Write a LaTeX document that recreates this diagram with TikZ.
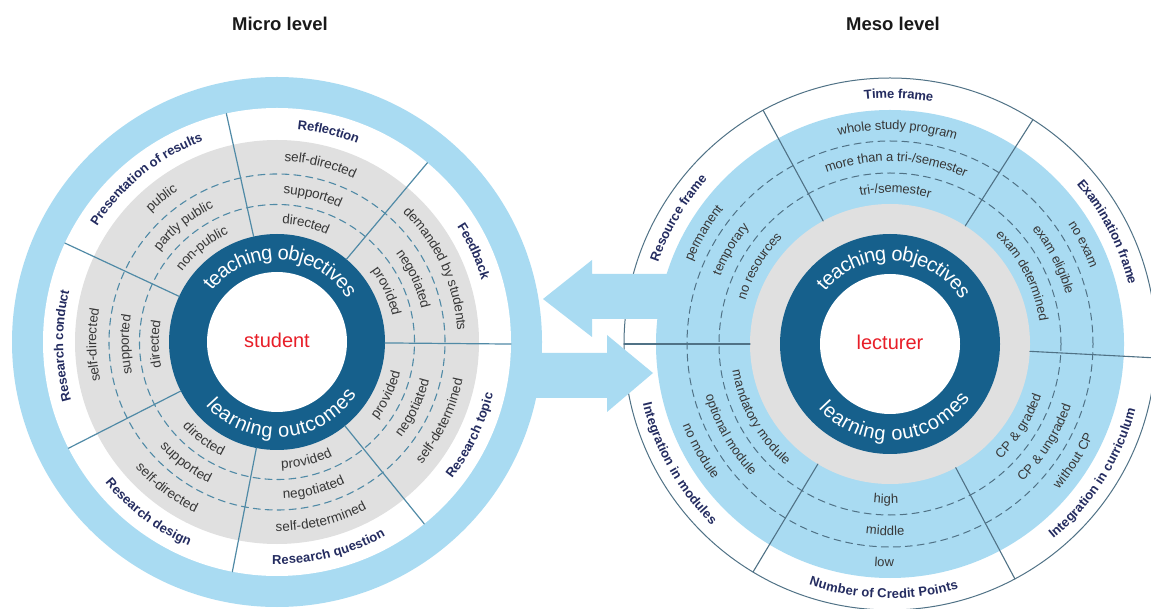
\documentclass[tikz,border=0pt]{standalone}
\usepackage{fontspec}
\setmainfont{Liberation Sans}
\usetikzlibrary{decorations.text}

\definecolor{vaalea}{RGB}{169,219,242}
\definecolor{harmaa}{RGB}{224,224,224}
\definecolor{tumma}{RGB}{22,96,140}
\definecolor{viiva}{RGB}{80,138,166}
\definecolor{viiva2}{RGB}{80,114,134}
\definecolor{laivasto}{RGB}{36,44,96}
\definecolor{teksti}{RGB}{55,55,55}
\definecolor{punainen}{RGB}{232,30,40}

\newcommand{\katfont}{\fontsize{13}{15}\selectfont\bfseries}
\newcommand{\optfont}{\fontsize{13.5}{16}\selectfont}
\newcommand{\optfontb}{\fontsize{13}{15}\selectfont}
\newcommand{\isofont}{\fontsize{20}{24}\selectfont}

%teksti kaarella: ylhaalla myotapaivaan, alhaalla vastapaivaan
\newcommand{\kaariyla}[5][]{\path[decorate,decoration={text along path,text align=center,text={#5}},#1]
  ([shift={(#3+70:#4)}]#2) arc[start angle=#3+70,delta angle=-140,radius=#4];}
\newcommand{\kaariala}[5][]{\path[decorate,decoration={text along path,text align=center,text={#5}},#1]
  ([shift={(#3-70:#4)}]#2) arc[start angle=#3-70,delta angle=140,radius=#4];}

\begin{document}
\begin{tikzpicture}[line cap=round,line join=round,x=1pt,y=1pt,
  kat/.style={decoration={raise=-4.2pt,text color=laivasto}},
  opt/.style={decoration={raise=-4.3pt,text color=teksti}},
  iso/.style={decoration={raise=-6.4pt,text color=white}},
  raja/.style={draw=viiva,line width=1.2pt},
  raja2/.style={draw=viiva2,line width=1.1pt},
  katko/.style={draw=viiva,line width=1.1pt,dash pattern=on 7pt off 5pt},
  katko2/.style={draw=viiva2,line width=1pt,dash pattern=on 7pt off 5pt},
  otsikko/.style={font=\fontsize{18.5}{22}\selectfont\bfseries,text=black!90},
  keski/.style={text=punainen,font=\fontsize{20}{24}\selectfont,text depth=0pt,inner sep=0pt}]
\useasboundingbox (0,0) rectangle (1151,608);
\clip (0,0) rectangle (1151,608);
\fill[white] (0,0) rectangle (1151,608);

\coordinate (L) at (277,266);
\coordinate (R) at (890,264);

%Micro level
\fill[vaalea] (L) circle [radius=265];
\fill[white] (L) circle [radius=234];
\fill[harmaa] (L) circle [radius=202];
\draw[katko] (L) circle [radius=168];
\draw[katko] (L) circle [radius=137.5];
\fill[tumma] (L) circle [radius=108];
\fill[white] (L) circle [radius=70];
\foreach \k in {102.5,50,-0.5,-51,-101,-153,155}
{
\draw[raja] ([shift={(\k:108)}]L) -- ([shift={(\k:234)}]L);
}

%Meso level
\draw[viiva2,line width=1pt,fill=white] (R) circle [radius=266];
\fill[vaalea] (R) circle [radius=234];
\draw[katko2] (R) circle [radius=203];
\draw[katko2] (R) circle [radius=171];
\fill[harmaa] (R) circle [radius=140];
\fill[tumma] (R) circle [radius=110];
\fill[white] (R) circle [radius=70];
\foreach \k in {118.5,57.5,-3,-62,-121,180}
{
\draw[raja2] ([shift={(\k:140)}]R) -- ([shift={(\k:266)}]R);
}

%nuolet
\fill[vaalea] (543,309) -- (592,348) -- (592,334) -- (672,334) -- (672,289) -- (592,289) -- (592,271) -- cycle;
\fill[vaalea] (653,235) -- (607,273) -- (607,255) -- (525,255) -- (525,210) -- (607,210) -- (607,196) -- cycle;

\node[otsikko] (mikro) at (280,584) {Micro level};
\node[otsikko] (meso) at (893,584) {Meso level};
\node[keski] (opiskelija) at ([yshift=2]L) {student};
\node[keski] (opettaja) at ([yshift=2]R) {lecturer};

%tekstit vasen
\kaariyla[iso]{L}{87}{89}{|\isofont|teaching objectives}
\kaariala[iso]{L}{274}{89}{|\isofont|learning outcomes}
\kaariyla[kat]{L}{76.25}{218}{|\katfont|Reflection}
\kaariyla[opt]{L}{76.25}{185}{|\optfont|self-directed}
\kaariyla[opt]{L}{76.25}{152.5}{|\optfont|supported}
\kaariyla[opt]{L}{76.25}{122.5}{|\optfont|directed}
\kaariyla[kat]{L}{24.75}{218}{|\katfont|Feedback}
\kaariyla[opt]{L}{24.75}{185}{|\optfont|demanded by students}
\kaariyla[opt]{L}{24.75}{152.5}{|\optfont|negotiated}
\kaariyla[opt]{L}{24.75}{122.5}{|\optfont|provided}
\kaariala[kat]{L}{334.25}{218}{|\katfont|Research topic}
\kaariala[opt]{L}{334.25}{185}{|\optfont|self-determined}
\kaariala[opt]{L}{334.25}{152.5}{|\optfont|negotiated}
\kaariala[opt]{L}{334.25}{122.5}{|\optfont|provided}
\kaariala[kat]{L}{284}{218}{|\katfont|Research question}
\kaariala[opt]{L}{284}{185}{|\optfont|self-determined}
\kaariala[opt]{L}{284}{152.5}{|\optfont|negotiated}
\kaariala[opt]{L}{284}{122.5}{|\optfont|provided}
\kaariala[kat]{L}{233}{218}{|\katfont|Research design}
\kaariala[opt]{L}{233}{185}{|\optfont|self-directed}
\kaariala[opt]{L}{233}{152.5}{|\optfont|supported}
\kaariala[opt]{L}{233}{122.5}{|\optfont|directed}
\kaariyla[kat]{L}{181}{218}{|\katfont|Research conduct}
\kaariyla[opt]{L}{181}{185}{|\optfont|self-directed}
\kaariyla[opt]{L}{181}{152.5}{|\optfont|supported}
\kaariyla[opt]{L}{181}{122.5}{|\optfont|directed}
\kaariyla[kat]{L}{128.75}{218}{|\katfont|Presentation of results}
\kaariyla[opt]{L}{128.75}{185}{|\optfont|public}
\kaariyla[opt]{L}{128.75}{152.5}{|\optfont|partly public}
\kaariyla[opt]{L}{128.75}{122.5}{|\optfont|non-public}

%tekstit oikea
\kaariyla[iso]{R}{86.5}{90}{|\isofont|teaching objectives}
\kaariala[iso]{R}{274}{90}{|\isofont|learning outcomes}
\kaariyla[kat]{R}{88}{250}{|\katfont|Time frame}
\kaariyla[opt]{R}{88}{218.5}{|\optfontb|whole study program}
\kaariyla[opt]{R}{88}{187}{|\optfontb|more than a tri-/semester}
\kaariyla[opt]{R}{88}{155.5}{|\optfontb|tri-/semester}
\kaariyla[kat]{R}{27.25}{250}{|\katfont|Examination frame}
\kaariyla[opt]{R}{27.25}{218.5}{|\optfontb|no exam}
\kaariyla[opt]{R}{27.25}{187}{|\optfontb|exam eligible}
\kaariyla[opt]{R}{27.25}{155.5}{|\optfontb|exam determined}
\kaariala[kat]{R}{327.5}{250}{|\katfont|Integration in curriculum}
\kaariala[opt]{R}{327.5}{218.5}{|\optfontb|without CP}
\kaariala[opt]{R}{327.5}{187}{|\optfontb|CP {\&} ungraded}
\kaariala[opt]{R}{327.5}{155.5}{|\optfontb|CP {\&} graded}
\kaariala[kat]{R}{268.5}{250}{|\katfont|Number of Credit Points}
\kaariala[opt]{R}{268.5}{218.5}{|\optfontb|low}
\kaariala[opt]{R}{268.5}{187}{|\optfontb|middle}
\kaariala[opt]{R}{268.5}{155.5}{|\optfontb|high}
\kaariala[kat]{R}{209.5}{250}{|\katfont|Integration in modules}
\kaariala[opt]{R}{209.5}{218.5}{|\optfontb|no module}
\kaariala[opt]{R}{209.5}{187}{|\optfontb|optional module}
\kaariala[opt]{R}{209.5}{155.5}{|\optfontb|mandatory module}
\kaariyla[kat]{R}{149.25}{250}{|\katfont|Resource frame}
\kaariyla[opt]{R}{149.25}{218.5}{|\optfontb|permanent}
\kaariyla[opt]{R}{149.25}{187}{|\optfontb|temporary}
\kaariyla[opt]{R}{149.25}{155.5}{|\optfontb|no resources}
\end{tikzpicture}
\end{document}
